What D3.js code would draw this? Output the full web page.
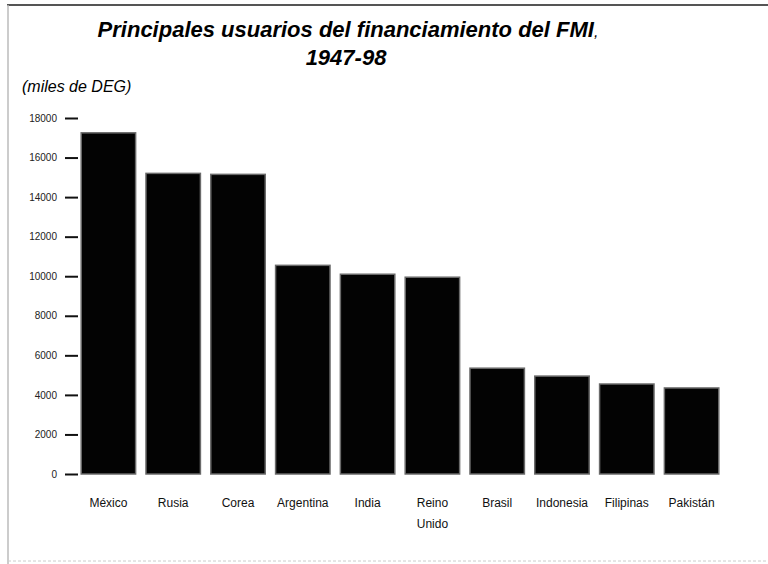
<!DOCTYPE html>
<html>
<head>
<meta charset="utf-8">
<script src="https://cdn.jsdelivr.net/npm/d3@7"></script>
<style>
  body { margin: 0; background: #fff; }
  svg { display: block; font-family: "Liberation Sans", Arial, sans-serif; }
</style>
</head>
<body>
<svg id="chart" width="768" height="564"></svg>
<script>
// values (miles de DEG)
const countries = ["México", "Rusia", "Corea", "Argentina", "India", "Reino Unido", "Brasil", "Indonesia", "Filipinas", "Pakistán"];
const amounts = [17250, 15200, 15150, 10550, 10100, 9950, 5350, 4950, 4550, 4350];
const yTicks = [0, 2000, 4000, 6000, 8000, 10000, 12000, 14000, 16000, 18000];

const svg = d3.select("#chart");

// scanned page frame
svg.append("line").attr("x1", 7).attr("x2", 768).attr("y1", 5).attr("y2", 5)
    .attr("stroke", "#555").attr("stroke-width", 2);
svg.append("line").attr("x1", 8).attr("x2", 8).attr("y1", 5).attr("y2", 564)
    .attr("stroke", "#bbb").attr("stroke-width", 1.5);
svg.append("line").attr("x1", 8).attr("x2", 768).attr("y1", 561).attr("y2", 561)
    .attr("stroke", "#ccc").attr("stroke-width", 1).attr("stroke-dasharray", "3 2");

// title
svg.append("text")
    .attr("x", 348).attr("y", 37)
    .attr("text-anchor", "middle")
    .style("font-size", "22px").style("font-weight", "bold").style("font-style", "italic")
    .text("Principales usuarios del financiamiento del FMI")
    .append("tspan").style("font-weight", "normal").style("font-size", "16px").text(",");
svg.append("text")
    .attr("x", 346).attr("y", 65)
    .attr("text-anchor", "middle")
    .style("font-size", "22px").style("font-weight", "bold").style("font-style", "italic")
    .text("1947-98");

svg.append("text")
    .attr("x", 22).attr("y", 92)
    .style("font-size", "16px").style("font-style", "italic")
    .text("(miles de DEG)");

let x = d3.scaleBand()
    .domain(countries)
    .range([76, 724])
    .paddingInner(0.16)
    .paddingOuter(0.08);

let y = d3.scaleLinear()
    .domain([0, 18000])
    .range([474, 118]);

// y axis, ticks only
let yAxis = svg.append("g")
    .attr("transform", "translate(78,0)")
    .call(d3.axisLeft(y).tickValues(yTicks).tickSize(13).tickPadding(8).tickFormat(d3.format("d")));
yAxis.select(".domain").remove();
yAxis.selectAll("line").attr("stroke", "#111").attr("stroke-width", 2);
yAxis.selectAll("text")
    .attr("fill", "#222")
    .style("font-size", "10px")
    .style("font-family", "'Liberation Sans', Arial, sans-serif");

// bars
svg.append("g")
    .selectAll("rect")
    .data(amounts)
    .enter()
    .append("rect")
    .attr("x", (d, i) => x(countries[i]))
    .attr("y", d => y(d))
    .attr("width", x.bandwidth())
    .attr("height", d => y(0) - y(d))
    .attr("fill", "#030303")
    .attr("stroke", "#6a6a6a")
    .attr("stroke-width", 1.5);

// category labels, "Reino Unido" wraps
let labels = svg.append("g")
    .selectAll("text")
    .data(countries)
    .enter()
    .append("text")
    .attr("text-anchor", "middle")
    .attr("fill", "#111")
    .style("font-size", "12px");

labels.selectAll("tspan")
    .data(d => d.split(" ").map(w => ({ word: w, name: d })))
    .enter()
    .append("tspan")
    .attr("x", d => x(d.name) + x.bandwidth() / 2)
    .attr("y", (d, i) => 507 + i * 21)
    .text(d => d.word);
</script>
</body>
</html>
